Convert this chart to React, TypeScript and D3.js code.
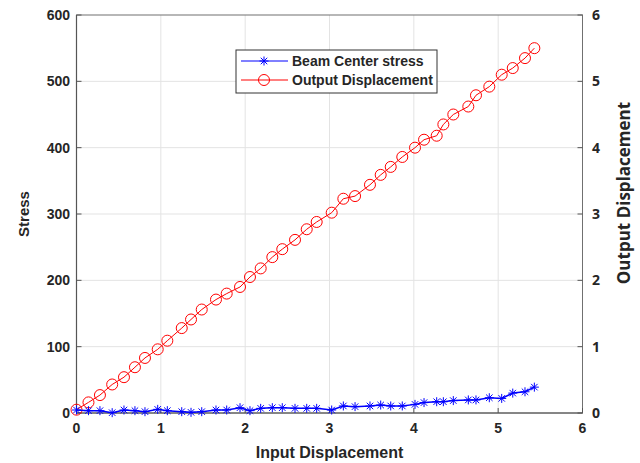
import React from "react";
import * as d3 from "d3";

const inputDisp = [0, 0.142, 0.278, 0.423, 0.563, 0.693, 0.812, 0.963, 1.077, 1.248, 1.358, 1.485, 1.654, 1.781, 1.939, 2.057, 2.184, 2.322, 2.440, 2.591, 2.730, 2.848, 3.026, 3.164, 3.303, 3.480, 3.607, 3.726, 3.863, 4.014, 4.121, 4.271, 4.350, 4.468, 4.646, 4.737, 4.895, 5.042, 5.173, 5.318, 5.429];
const beamStress = [4.5, 3.5, 3.5, 0.5, 4.5, 3.5, 2, 5.5, 3.5, 2, 1, 2, 4.5, 4.5, 8, 3.5, 7, 8, 8, 7, 7, 7, 4.5, 10.6, 9.6, 10.6, 12, 10.6, 10.6, 13, 15.7, 17, 17, 18.7, 19.7, 19.7, 23, 22, 30, 32, 39];
const outputDisp = [0.05, 0.16, 0.27, 0.43, 0.54, 0.69, 0.83, 0.96, 1.09, 1.28, 1.41, 1.56, 1.71, 1.80, 1.90, 2.05, 2.18, 2.35, 2.47, 2.61, 2.77, 2.88, 3.02, 3.23, 3.27, 3.44, 3.59, 3.71, 3.86, 4.00, 4.12, 4.18, 4.35, 4.50, 4.62, 4.79, 4.92, 5.10, 5.20, 5.35, 5.50];
const xTicks = [0, 1, 2, 3, 4, 5, 6];
const leftTicks = [0, 100, 200, 300, 400, 500, 600];
const rightTicks = [0, 1, 2, 3, 4, 5, 6];
const seriesNames = ["Beam Center stress", "Output Displacement"];
const axisTitles = { x: "Input Displacement", left: "Stress", right: "Output Displacement" };

const W = 640, H = 463;
const L = 76.5, R = 582.5, T = 15, B = 413;

export default function App() {
  const x = d3.scaleLinear().domain([0, 6]).range([L, R]);
  const yL = d3.scaleLinear().domain([0, 600]).range([B, T]);
  const yR = d3.scaleLinear().domain([0, 6]).range([B, T]);
  const blueLine = d3.line<number>().x((_, i) => x(inputDisp[i])).y((d) => yL(d));
  const redLine = d3.line<number>().x((_, i) => x(inputDisp[i])).y((d) => yR(d));
  const font = "'Liberation Sans', Arial, sans-serif";
  const txt = "#262626";
  const axisCol = "#707070";
  const star = (cx: number, cy: number, k: string | number) => {
    const r = 4.5, d = r * 0.72;
    return (
      <g key={k} stroke="#0000ff" strokeWidth={1}>
        <line x1={cx - r} y1={cy} x2={cx + r} y2={cy} />
        <line x1={cx} y1={cy - r} x2={cx} y2={cy + r} />
        <line x1={cx - d} y1={cy - d} x2={cx + d} y2={cy + d} />
        <line x1={cx - d} y1={cy + d} x2={cx + d} y2={cy - d} />
      </g>
    );
  };
  const legX = 236, legY = 50, legW = 201, legH = 43;
  return (
    <svg width={W} height={H} style={{ position: "absolute", left: 0, top: 0, background: "#fff" }} fontFamily={font}>
      <rect x={0} y={0} width={W} height={H} fill="#fff" />
      {xTicks.slice(1, -1).map((t) => (
        <line key={"gx" + t} x1={x(t)} x2={x(t)} y1={T} y2={B} stroke="#e3e3e3" strokeWidth={1} />
      ))}
      {leftTicks.slice(1, -1).map((t) => (
        <line key={"gy" + t} x1={L} x2={R} y1={yL(t)} y2={yL(t)} stroke="#e3e3e3" strokeWidth={1} />
      ))}
      <rect x={L} y={T} width={R - L} height={B - T} fill="none" stroke={axisCol} strokeWidth={1} />
      <line x1={L} x2={L} y1={T} y2={B} stroke="#555" strokeWidth={1.2} />
      <line x1={L} x2={R} y1={B} y2={B} stroke="#555" strokeWidth={1.2} />
      {xTicks.map((t) => (
        <g key={"xt" + t}>
          <line x1={x(t)} x2={x(t)} y1={B} y2={B - 5} stroke="#555" />
          <text x={x(t)} y={433} textAnchor="middle" fontSize={14} fontWeight="bold" fill={txt}>{t}</text>
        </g>
      ))}
      {leftTicks.map((t) => (
        <g key={"lt" + t}>
          <line x1={L} x2={L + 5} y1={yL(t)} y2={yL(t)} stroke="#555" />
          <text x={70} y={yL(t) + 5} textAnchor="end" fontSize={14} fontWeight="bold" fill={txt}>{t}</text>
        </g>
      ))}
      {rightTicks.map((t) => (
        <g key={"rt" + t}>
          <line x1={R} x2={R - 5} y1={yR(t)} y2={yR(t)} stroke="#555" />
          <text x={592} y={yR(t) + 5} textAnchor="start" fontSize={14} fontWeight="bold" fill={txt} fontFamily="'Open Sans', sans-serif">{t}</text>
        </g>
      ))}
      <text x={(L + R) / 2} y={458} textAnchor="middle" fontSize={16} fontWeight="bold" fill={txt}>{axisTitles.x}</text>
      <text transform={`translate(29,${(T + B) / 2}) rotate(-90)`} textAnchor="middle" fontSize={15} fontWeight="bold" fill={txt}>{axisTitles.left}</text>
      <text transform={`translate(630,193) rotate(-90)`} textAnchor="middle" fontSize={17} fontWeight="bold" fill={txt} fontFamily="'Open Sans', sans-serif">{axisTitles.right}</text>
      <path d={redLine(outputDisp) || ""} fill="none" stroke="#ff0000" strokeWidth={1} />
      {outputDisp.map((v, i) => (
        <circle key={"c" + i} cx={x(inputDisp[i])} cy={yR(v)} r={5.5} fill="none" stroke="#ff0000" strokeWidth={1} />
      ))}
      <path d={blueLine(beamStress) || ""} fill="none" stroke="#0000ff" strokeWidth={1.5} />
      {beamStress.map((v, i) => star(x(inputDisp[i]), yL(v), "s" + i))}
      <rect x={legX} y={legY} width={legW} height={legH} fill="#fff" stroke="#333" strokeWidth={1} />
      <line x1={241} x2={288} y1={61} y2={61} stroke="#0000ff" strokeWidth={1} />
      {star(264, 61, "ls")}
      <text x={292} y={66} fontSize={14} fontWeight="bold" fill={txt}>{seriesNames[0]}</text>
      <line x1={241} x2={288} y1={80} y2={80} stroke="#ff0000" strokeWidth={1} />
      <circle cx={264} cy={80} r={5.5} fill="none" stroke="#ff0000" />
      <text x={292} y={85} fontSize={14} fontWeight="bold" fill={txt}>{seriesNames[1]}</text>
    </svg>
  );
}
